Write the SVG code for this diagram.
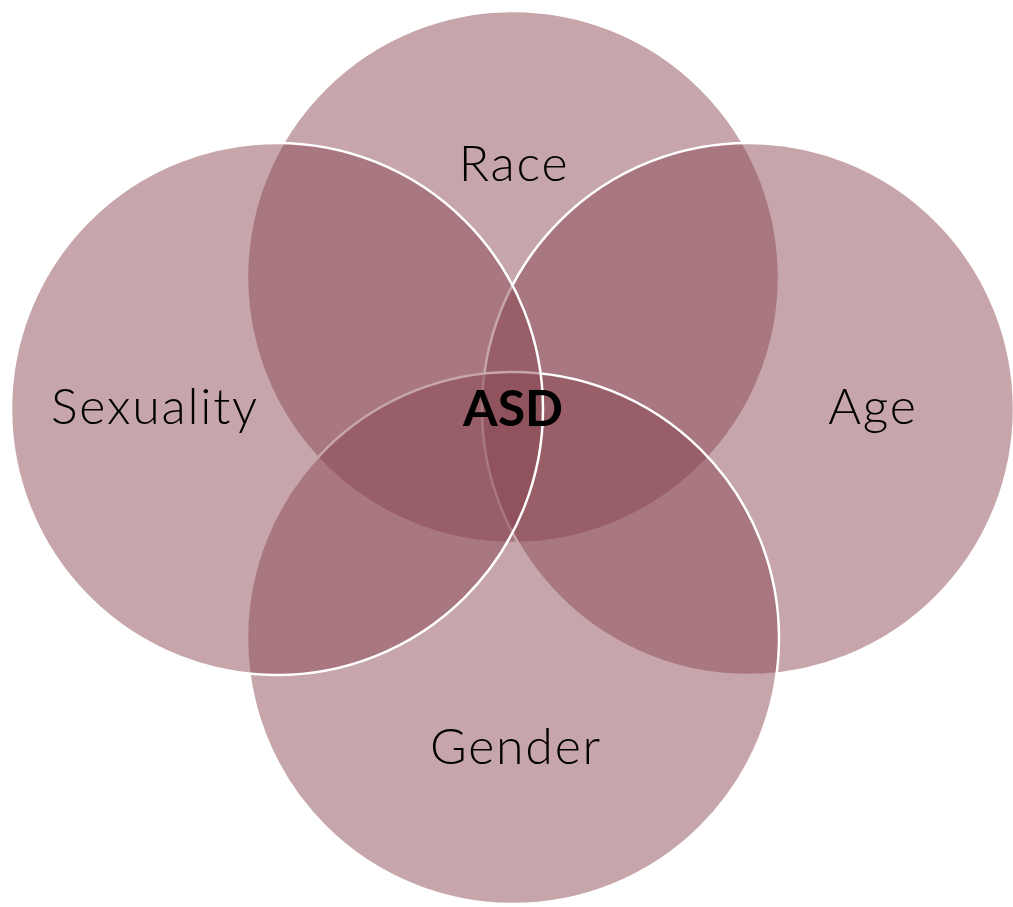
<svg xmlns="http://www.w3.org/2000/svg" width="1013" height="907" viewBox="0 0 1013 907">
<style>
.c{fill:rgb(135,69,79);fill-opacity:0.48;stroke:#fff;stroke-width:2.5}
.t{font-family:Lato,"Open Sans","Liberation Sans",sans-serif;font-size:50px;font-weight:300;letter-spacing:1.8px;fill:#000;text-anchor:middle}
.b{font-weight:bold;letter-spacing:0}
</style>
<rect width="1013" height="907" fill="#fff"/>
<g id="race"><circle class="c" cx="513" cy="277" r="266"/></g>
<g id="age"><circle class="c" cx="748" cy="409" r="266"/></g>
<g id="gender"><circle class="c" cx="513" cy="638" r="266"/></g>
<g id="sexuality"><circle class="c" cx="277" cy="409" r="266"/></g>
<g id="labels">
<text class="t" x="514" y="181">Race</text>
<text class="t" x="155" y="424">Sexuality</text>
<text class="t" x="873" y="424">Age</text>
<text class="t" x="516" y="764">Gender</text>
<text class="t b" x="513" y="426">ASD</text>
</g>
<g id="connectors"/>
</svg>
